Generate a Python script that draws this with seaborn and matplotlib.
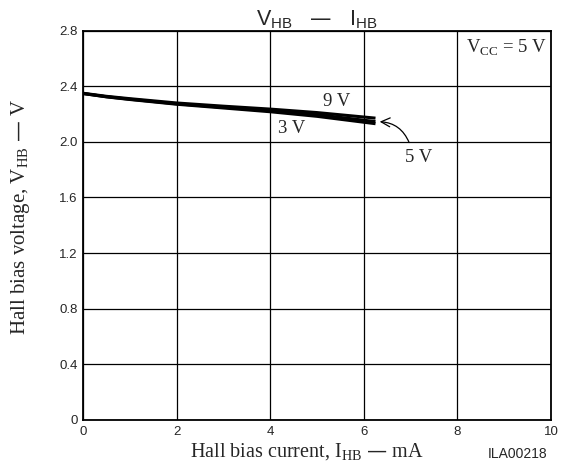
import numpy as np
import pandas as pd
import matplotlib
matplotlib.use("Agg")
import matplotlib.pyplot as plt
import seaborn as sns

# ---- data ----
current_ma = [0, 0.5, 1, 2, 3, 4, 5, 6.25]
vhb_3v = [2.347, 2.323, 2.304, 2.270, 2.243, 2.216, 2.183, 2.130]
vhb_5v = [2.347, 2.324, 2.306, 2.273, 2.248, 2.224, 2.195, 2.145]
vhb_9v = [2.349, 2.327, 2.310, 2.279, 2.256, 2.235, 2.210, 2.170]
series_names = ["3 V", "5 V", "9 V"]
x_ticks = [0, 2, 4, 6, 8, 10]
y_ticks = [0, 0.4, 0.8, 1.2, 1.6, 2.0, 2.4, 2.8]
y_tick_labels = ["0", "0.4", "0.8", "1.2", "1.6", "2.0", "2.4", "2.8"]

n = len(current_ma)
df = pd.DataFrame({
    "I": current_ma * 3,
    "V": vhb_3v + vhb_5v + vhb_9v,
    "s": [series_names[0]] * n + [series_names[1]] * n + [series_names[2]] * n,
})

sns.set_style("white")
plt.rcParams["font.family"] = ["Liberation Sans", "DejaVu Sans"]
serif = ["Liberation Serif", "DejaVu Serif"]
sans = ["Liberation Sans", "DejaVu Sans"]

fig = plt.figure(figsize=(5.63, 4.67), dpi=100)
ax = fig.add_axes([83 / 563, 1 - 420 / 467, (551 - 83) / 563, (420 - 30.5) / 467])

sns.lineplot(data=df, x="I", y="V", hue="s", palette=["black"] * 3,
             linewidth=2.2, legend=False, ax=ax, solid_capstyle="butt")

ax.set_xlim(0, 10)
ax.set_ylim(0, 2.8)
ax.set_xticks(x_ticks)
ax.set_yticks(y_ticks)
ax.set_yticklabels(y_tick_labels)
ax.tick_params(length=0, labelsize=9.5, pad=4)
for lab in ax.get_xticklabels() + ax.get_yticklabels():
    lab.set_family(sans)
ax.grid(True, color="black", linewidth=0.9)
for sp in ax.spines.values():
    sp.set_color("black")
    sp.set_linewidth(1.3)

ax.set_xlabel(r"Hall bias current, I$_\mathregular{HB}$ — mA", family=serif,
              fontsize=14.5)
ax.set_ylabel(r"Hall bias voltage, V$_\mathregular{HB}$ — V", family=serif,
              fontsize=15)
ax.xaxis.set_label_coords(0.4776, -0.053)
ax.yaxis.set_label_coords(-0.109, 0.522)
ax.set_title(r"V$_\mathregular{HB}$   —   I$_\mathregular{HB}$", family=sans,
             fontsize=15.5, pad=4)

ax.text(0.992, 0.955, r"V$_\mathregular{CC}$ = 5 V", transform=ax.transAxes,
        ha="right", va="center", family=serif, fontsize=13.5)
ax.text(5.43, 2.287, "9 V", ha="center", va="center", family=serif, fontsize=13.5)
ax.text(4.46, 2.095, "3 V", ha="center", va="center", family=serif, fontsize=13.5)
ax.text(7.17, 1.887, "5 V", ha="center", va="center", family=serif, fontsize=13.5)
ax.annotate("", xy=(6.28, 2.145), xytext=(6.99, 1.976),
            arrowprops=dict(arrowstyle="->", color="black", lw=0.9,
                            connectionstyle="arc3,rad=0.35", mutation_scale=16))

fig.text(518 / 563, 1 - 454 / 467, "ILA00218", ha="center", va="center",
         family=sans, fontsize=10)

fig.savefig("out.png", dpi=100)
